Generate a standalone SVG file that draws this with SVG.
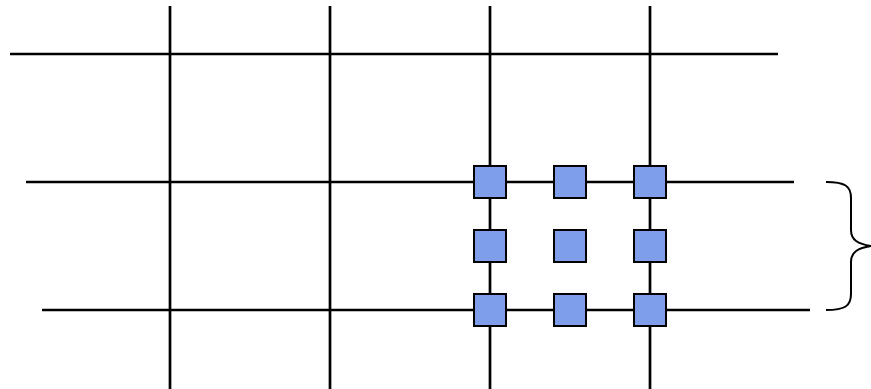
<svg xmlns="http://www.w3.org/2000/svg" width="871" height="389" viewBox="0 0 871 389">
<style>
.ln{stroke:#000;stroke-width:2.7;fill:none}
.sq{fill:#7E9DEA;stroke:#000;stroke-width:2}
.br{stroke:#000;stroke-width:2;fill:none}
</style>
<rect width="871" height="389" fill="#fff"/>
<g id="connectors">
<line class="ln" x1="170" y1="6" x2="170" y2="389"/>
<line class="ln" x1="330" y1="6" x2="330" y2="389"/>
<line class="ln" x1="490" y1="6" x2="490" y2="389"/>
<line class="ln" x1="650" y1="6" x2="650" y2="389"/>
<line class="ln" x1="10" y1="54" x2="778" y2="54"/>
<line class="ln" x1="26" y1="182" x2="794" y2="182"/>
<line class="ln" x1="42" y1="310" x2="810" y2="310"/>
</g>
<g id="n1"><rect class="sq" x="474" y="166" width="32" height="32"/></g>
<g id="n2"><rect class="sq" x="554" y="166" width="32" height="32"/></g>
<g id="n3"><rect class="sq" x="634" y="166" width="32" height="32"/></g>
<g id="n4"><rect class="sq" x="474" y="230" width="32" height="32"/></g>
<g id="n5"><rect class="sq" x="554" y="230" width="32" height="32"/></g>
<g id="n6"><rect class="sq" x="634" y="230" width="32" height="32"/></g>
<g id="n7"><rect class="sq" x="474" y="294" width="32" height="32"/></g>
<g id="n8"><rect class="sq" x="554" y="294" width="32" height="32"/></g>
<g id="n9"><rect class="sq" x="634" y="294" width="32" height="32"/></g>
<g id="brace"><path class="br" d="M826,182 C845,182 851,186 851,198 L851,230 C851,240 858,244 871,246 C858,248 851,252 851,262 L851,294 C851,306 845,310 826,310"/></g>
</svg>
